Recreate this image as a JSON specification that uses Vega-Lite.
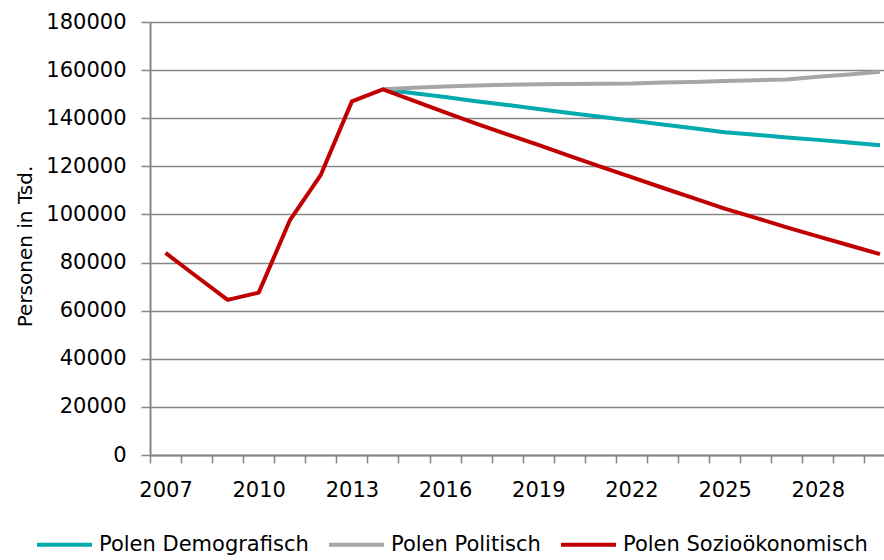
{
  "$schema": "https://vega.github.io/schema/vega-lite/v6.json",
  "width": 734,
  "height": 433,
  "autosize": {"type": "none"},
  "padding": {"left": 150, "top": 22, "right": 0, "bottom": 105},
  "background": "white",
  "config": {
    "view": {"stroke": null},
    "font": "DejaVu Sans",
    "axis": {
      "labelFont": "DejaVu Sans",
      "labelFontSize": 21,
      "labelColor": "#000000",
      "domainColor": "#868686",
      "domainWidth": 2,
      "tickColor": "#868686",
      "tickWidth": 1.5,
      "gridColor": "#868686",
      "gridWidth": 1.5
    }
  },
  "data": {
    "values": [
      {"year": 2014, "series": "Polen Demografisch", "value": 152000},
      {"year": 2015, "series": "Polen Demografisch", "value": 150400},
      {"year": 2016, "series": "Polen Demografisch", "value": 148800},
      {"year": 2017, "series": "Polen Demografisch", "value": 147100},
      {"year": 2018, "series": "Polen Demografisch", "value": 145500},
      {"year": 2019, "series": "Polen Demografisch", "value": 143800},
      {"year": 2020, "series": "Polen Demografisch", "value": 142200},
      {"year": 2021, "series": "Polen Demografisch", "value": 140600},
      {"year": 2022, "series": "Polen Demografisch", "value": 139000},
      {"year": 2023, "series": "Polen Demografisch", "value": 137400},
      {"year": 2024, "series": "Polen Demografisch", "value": 135800},
      {"year": 2025, "series": "Polen Demografisch", "value": 134200},
      {"year": 2026, "series": "Polen Demografisch", "value": 133100},
      {"year": 2027, "series": "Polen Demografisch", "value": 132000},
      {"year": 2028, "series": "Polen Demografisch", "value": 131000},
      {"year": 2029, "series": "Polen Demografisch", "value": 129900},
      {"year": 2030, "series": "Polen Demografisch", "value": 128800},
      {"year": 2014, "series": "Polen Politisch", "value": 152000},
      {"year": 2015, "series": "Polen Politisch", "value": 152700},
      {"year": 2016, "series": "Polen Politisch", "value": 153200},
      {"year": 2017, "series": "Polen Politisch", "value": 153600},
      {"year": 2018, "series": "Polen Politisch", "value": 153900},
      {"year": 2019, "series": "Polen Politisch", "value": 154100},
      {"year": 2020, "series": "Polen Politisch", "value": 154200},
      {"year": 2021, "series": "Polen Politisch", "value": 154300},
      {"year": 2022, "series": "Polen Politisch", "value": 154400},
      {"year": 2023, "series": "Polen Politisch", "value": 154800},
      {"year": 2024, "series": "Polen Politisch", "value": 155100},
      {"year": 2025, "series": "Polen Politisch", "value": 155500},
      {"year": 2026, "series": "Polen Politisch", "value": 155800},
      {"year": 2027, "series": "Polen Politisch", "value": 156100},
      {"year": 2028, "series": "Polen Politisch", "value": 157200},
      {"year": 2029, "series": "Polen Politisch", "value": 158200},
      {"year": 2030, "series": "Polen Politisch", "value": 159300},
      {"year": 2007, "series": "Polen Sozioökonomisch", "value": 84000},
      {"year": 2008, "series": "Polen Sozioökonomisch", "value": 74200},
      {"year": 2009, "series": "Polen Sozioökonomisch", "value": 64500},
      {"year": 2010, "series": "Polen Sozioökonomisch", "value": 67500},
      {"year": 2011, "series": "Polen Sozioökonomisch", "value": 97500},
      {"year": 2012, "series": "Polen Sozioökonomisch", "value": 116500},
      {"year": 2013, "series": "Polen Sozioökonomisch", "value": 147000},
      {"year": 2014, "series": "Polen Sozioökonomisch", "value": 152000},
      {"year": 2015, "series": "Polen Sozioökonomisch", "value": 147200},
      {"year": 2016, "series": "Polen Sozioökonomisch", "value": 142400},
      {"year": 2017, "series": "Polen Sozioökonomisch", "value": 137800},
      {"year": 2018, "series": "Polen Sozioökonomisch", "value": 133300},
      {"year": 2019, "series": "Polen Sozioökonomisch", "value": 128900},
      {"year": 2020, "series": "Polen Sozioökonomisch", "value": 124300},
      {"year": 2021, "series": "Polen Sozioökonomisch", "value": 119900},
      {"year": 2022, "series": "Polen Sozioökonomisch", "value": 115500},
      {"year": 2023, "series": "Polen Sozioökonomisch", "value": 111100},
      {"year": 2024, "series": "Polen Sozioökonomisch", "value": 106800},
      {"year": 2025, "series": "Polen Sozioökonomisch", "value": 102400},
      {"year": 2026, "series": "Polen Sozioökonomisch", "value": 98600},
      {"year": 2027, "series": "Polen Sozioökonomisch", "value": 94600},
      {"year": 2028, "series": "Polen Sozioökonomisch", "value": 90900},
      {"year": 2029, "series": "Polen Sozioökonomisch", "value": 87200},
      {"year": 2030, "series": "Polen Sozioökonomisch", "value": 83500}
    ]
  },
  "resolve": {"axis": {"x": "independent"}},
  "layer": [
    {
      "mark": {"type": "line", "strokeOpacity": 0},
      "encoding": {
        "x": {
          "field": "year",
          "type": "quantitative",
          "scale": {"domain": [2006.5, 2030.13], "nice": false, "zero": false},
          "axis": {
            "orient": "bottom",
            "title": null,
            "grid": false,
            "labels": false,
            "domain": true,
            "values": [2006.5, 2007.5, 2008.5, 2009.5, 2010.5, 2011.5, 2012.5, 2013.5, 2014.5, 2015.5, 2016.5, 2017.5, 2018.5, 2019.5, 2020.5, 2021.5, 2022.5, 2023.5, 2024.5, 2025.5, 2026.5, 2027.5, 2028.5, 2029.5],
            "tickSize": 8
          }
        },
        "y": {"field": "value", "type": "quantitative"},
        "detail": {"field": "series"}
      }
    },
    {
      "mark": {"type": "line", "strokeWidth": 4, "strokeJoin": "round"},
      "encoding": {
        "x": {
          "field": "year",
          "type": "quantitative",
          "axis": {
            "orient": "bottom",
            "title": null,
            "grid": false,
            "domain": false,
            "ticks": false,
            "values": [2007, 2010, 2013, 2016, 2019, 2022, 2025, 2028],
            "format": "d",
            "labelOverlap": false,
            "labelFlush": false,
            "labelBaseline": "top",
            "labelPadding": 24
          }
        },
        "y": {
          "field": "value",
          "type": "quantitative",
          "scale": {"domain": [0, 180000], "nice": false},
          "axis": {
            "values": [0, 20000, 40000, 60000, 80000, 100000, 120000, 140000, 160000, 180000],
            "format": "d",
            "tickSize": 9,
            "labelPadding": 15,
            "title": "Personen in Tsd.",
            "titleFont": "DejaVu Sans",
            "titleFontSize": 20,
            "titleFontWeight": "normal",
            "titleColor": "#000000",
            "titleX": -119,
            "titleY": 224,
            "titleAngle": -90,
            "titleBaseline": "alphabetic",
            "titleAlign": "center"
          }
        },
        "color": {
          "field": "series",
          "type": "nominal",
          "scale": {
            "domain": ["Polen Demografisch", "Polen Politisch", "Polen Sozioökonomisch"],
            "range": ["#00AAAD", "#A6A6A6", "#C00000"]
          },
          "legend": {
            "title": null,
            "orient": "none",
            "direction": "horizontal",
            "legendX": -115,
            "legendY": 493,
            "symbolType": "stroke",
            "symbolSize": 3025,
            "symbolStrokeWidth": 4,
            "labelFont": "DejaVu Sans",
            "labelFontSize": 21,
            "labelColor": "#000000",
            "labelOffset": 5,
            "columnPadding": 12,
            "labelLimit": 400
          }
        }
      }
    }
  ]
}
